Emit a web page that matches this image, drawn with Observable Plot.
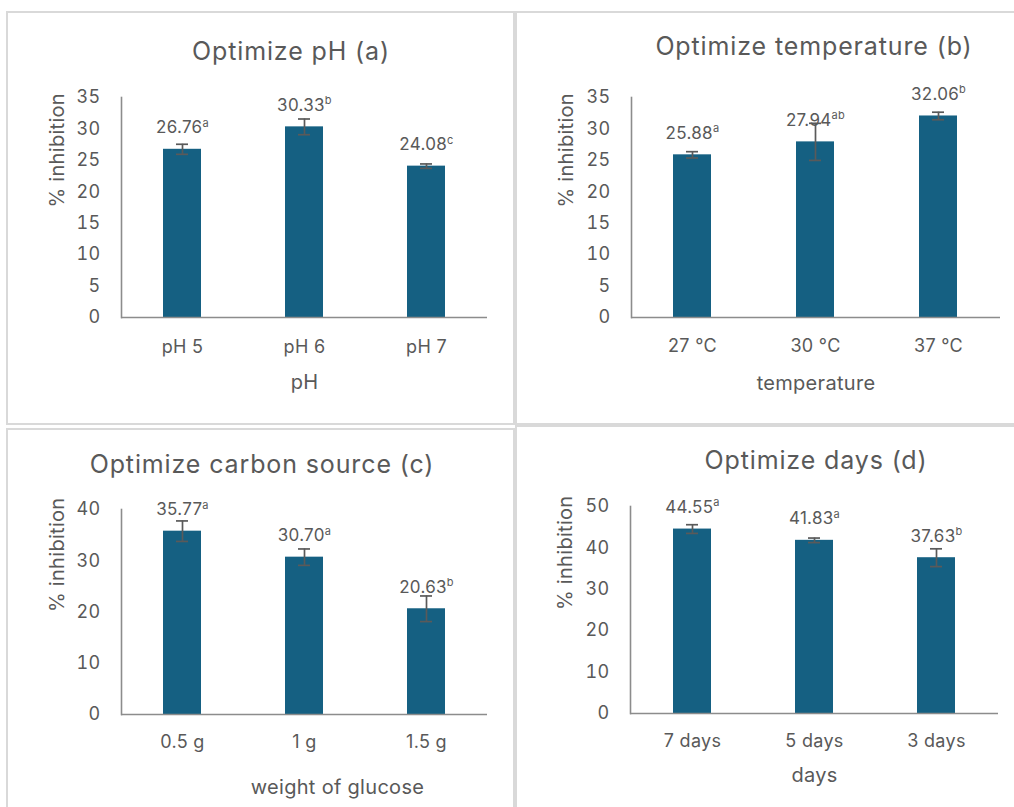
<!DOCTYPE html>
<html><head><meta charset="utf-8">
<script src="https://cdn.jsdelivr.net/npm/d3@7"></script>
<script src="https://cdn.jsdelivr.net/npm/@observablehq/plot@0.6"></script>
<style>
html,body{margin:0;padding:0;background:#fff;}
#root{position:relative;width:1014px;height:807px;overflow:hidden;font-family:Inter,"Open Sans",sans-serif;color:#595959;}
.panel{position:absolute;box-sizing:border-box;border:2px solid #d9d9d9;}
.title{position:absolute;white-space:nowrap;font-size:25px;line-height:25px;letter-spacing:0.035em;color:#595959;transform:translateX(-50%);}
.chart{position:absolute;}
.chart svg{overflow:visible;max-width:none;}
</style></head><body><div id="root"></div>
<script>
// ---- data ----
const phCategories = ["pH 5", "pH 6", "pH 7"];
const phValues = [26.76, 30.33, 24.08];
const phErrors = [0.8, 1.25, 0.35];
const phLetters = ["a", "b", "c"];
const phTicks = [0, 5, 10, 15, 20, 25, 30, 35];

const tempCategories = ["27 °C", "30 °C", "37 °C"];
const tempValues = [25.88, 27.94, 32.06];
const tempErrors = [0.5, 2.95, 0.6];
const tempLetters = ["a", "ab", "b"];
const tempTicks = [0, 5, 10, 15, 20, 25, 30, 35];

const carbonCategories = ["0.5 g", "1 g", "1.5 g"];
const carbonValues = [35.77, 30.70, 20.63];
const carbonErrors = [2.0, 1.6, 2.5];
const carbonLetters = ["a", "a", "b"];
const carbonTicks = [0, 10, 20, 30, 40];

const dayCategories = ["7 days", "5 days", "3 days"];
const dayValues = [44.55, 41.83, 37.63];
const dayErrors = [1.05, 0.55, 2.15];
const dayLetters = ["a", "a", "b"];
const dayTicks = [0, 10, 20, 30, 40, 50];

const panelTitles = ["Optimize pH (a)", "Optimize temperature (b)", "Optimize carbon source (c)", "Optimize days (d)"];
const xTitles = ["pH", "temperature", "weight of glucose", "days"];
const yTitle = "% inhibition";

// ---- drawing ----
const root = document.getElementById("root");
const BAR = "#156082", AX = "#8c8c8c", TXT = "#595959", ERR = "#5a5a5a";

function supRender(index, scales, values, dimensions, context, next) {
  const g = next(index, scales, values, dimensions, context);
  g.querySelectorAll("text").forEach(t => {
    const parts = t.textContent.split("^");
    t.textContent = parts[0];
    const ts = document.createElementNS("http://www.w3.org/2000/svg", "tspan");
    ts.setAttribute("font-size", "11");
    ts.setAttribute("dy", "-0.6em");
    ts.textContent = parts[1];
    t.appendChild(ts);
  });
  return g;
}

function box(l, t, w, h) {
  const d = document.createElement("div");
  d.className = "panel";
  Object.assign(d.style, {left: l + "px", top: t + "px", width: w + "px", height: h + "px"});
  root.appendChild(d);
}
function title(text, cx, top) {
  const d = document.createElement("div");
  d.className = "title";
  d.textContent = text;
  Object.assign(d.style, {left: cx + "px", top: top + "px"});
  root.appendChild(d);
}

function panel(o) {
  const data = o.cats.map((c, i) => ({cat: c, value: o.vals[i], err: o.errs[i], letter: o.letters[i]}));
  const chart = Plot.plot({
    width: o.width, height: o.height,
    marginLeft: o.mL, marginRight: o.mR, marginTop: o.mT, marginBottom: o.mB,
    style: {fontFamily: "Inter, 'Open Sans', sans-serif", color: TXT, background: "transparent", overflow: "visible", letterSpacing: "0.03em"},
    x: {domain: o.cats, paddingInner: 0.69, paddingOuter: 0.345},
    y: {domain: [o.ticks[0], o.ticks[o.ticks.length - 1]]},
    marks: [
      Plot.axisY({ticks: o.ticks, tickSize: 0, tickPadding: 21, fontSize: 18, label: null, color: TXT}),
      Plot.axisX({tickSize: 0, tickPadding: o.tickPad, fontSize: 18, label: null, color: TXT}),
      Plot.barY(data, {x: "cat", y: "value", fill: BAR}),
      Plot.ruleY([0], {stroke: AX, strokeWidth: 1.6}),
      Plot.frame({anchor: "left", stroke: AX, strokeWidth: 1.6}),
      Plot.ruleX(data, {x: "cat", y1: d => d.value - d.err, y2: d => d.value + d.err, stroke: ERR, strokeWidth: 1.7}),
      Plot.tickY(data, {x: "cat", y: d => d.value - d.err, insetLeft: 13, insetRight: 13, stroke: ERR, strokeWidth: 1.7}),
      Plot.tickY(data, {x: "cat", y: d => d.value + d.err, insetLeft: 13, insetRight: 13, stroke: ERR, strokeWidth: 1.7}),
      Plot.text(data, {x: "cat", y: "value", text: d => `${d.value.toFixed(2)}^${d.letter}`, dy: -16, lineAnchor: "bottom", fontSize: 17, fill: TXT, render: supRender}),
      Plot.text([yTitle], {text: d => d, frameAnchor: "left", rotate: -90, dx: o.yDx, lineAnchor: "middle", fontSize: 20, fill: TXT}),
      Plot.text([o.xTitle], {text: d => d, frameAnchor: "bottom", dx: o.xDx || 0, dy: o.xDy, lineAnchor: "middle", fontSize: 20, fill: TXT})
    ]
  });
  const wrap = document.createElement("div");
  wrap.className = "chart";
  Object.assign(wrap.style, {left: o.left + "px", top: o.top + "px", width: o.width + "px", height: o.height + "px"});
  wrap.appendChild(chart);
  root.appendChild(wrap);
}

// panel frames
box(6, 11, 509, 414);
box(515, 11, 502, 414);
box(6, 428, 509, 400);
box(515, 425, 502, 400);

// titles
title(panelTitles[0], 291, 39);
title(panelTitles[1], 814, 34);
title(panelTitles[2], 262, 452);
title(panelTitles[3], 816, 448);

panel({cats: phCategories, vals: phValues, errs: phErrors, letters: phLetters, ticks: phTicks, xTitle: xTitles[0],
  left: 20, top: 60, width: 480, height: 350, mL: 101, mR: 13, mT: 37, mB: 93, tickPad: 23, xDy: 65, yDx: -64});
panel({cats: tempCategories, vals: tempValues, errs: tempErrors, letters: tempLetters, ticks: tempTicks, xTitle: xTitles[1],
  left: 530, top: 60, width: 480, height: 350, mL: 101, mR: 10, mT: 37, mB: 93, tickPad: 22, xDy: 66, yDx: -65});
panel({cats: carbonCategories, vals: carbonValues, errs: carbonErrors, letters: carbonLetters, ticks: carbonTicks, xTitle: xTitles[2],
  left: 20, top: 480, width: 480, height: 325, mL: 101, mR: 13, mT: 29, mB: 91, tickPad: 21, xDy: 73, xDx: 33, yDx: -63.5});
panel({cats: dayCategories, vals: dayValues, errs: dayErrors, letters: dayLetters, ticks: dayTicks, xTitle: xTitles[3],
  left: 530, top: 480, width: 480, height: 325, mL: 100, mR: 12, mT: 26, mB: 92, tickPad: 21, xDy: 62, yDx: -65});
</script></body></html>
